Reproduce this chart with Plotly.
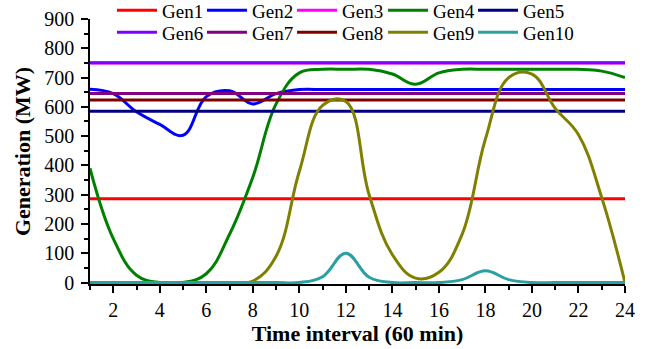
import plotly.graph_objects as go

hours = list(range(1, 25))

gen1 = [286] * 24
gen2 = [660, 645, 583, 540, 503, 635, 655, 610, 645, 659, 659, 659,
        659, 659, 659, 659, 659, 659, 659, 659, 659, 659, 659, 659]
gen3 = [750] * 24
gen4 = [390, 150, 25, 0, 0, 30, 165, 360, 610, 716, 728, 728,
        728, 712, 677, 716, 728, 728, 728, 728, 728, 728, 722, 700]
gen5 = [585] * 24
gen6 = [751] * 24
gen7 = [646] * 24
gen8 = [623] * 24
gen9 = [0, 0, 0, 0, 0, 0, 0, 5, 90, 380, 605, 618,
        300, 95, 15, 35, 165, 490, 700, 712, 595, 505, 290, 0]
gen10 = [0, 0, 0, 0, 0, 0, 0, 0, 0, 0, 20, 100,
         18, 0, 0, 0, 10, 40, 10, 0, 0, 0, 0, 0]

names = ["Gen1", "Gen2", "Gen3", "Gen4", "Gen5",
         "Gen6", "Gen7", "Gen8", "Gen9", "Gen10"]
series = [gen1, gen2, gen3, gen4, gen5, gen6, gen7, gen8, gen9, gen10]
colors = ["#FF0000", "#0000FF", "#FF00FF", "#008000", "#000080",
          "#8000FF", "#800080", "#800000", "#808000", "#2BA0A0"]

font_family = "Liberation Serif, Times New Roman, serif"

# legend grid placement (paper coords): 5 columns x 2 rows
col_x = [0.0411, 0.2093, 0.3776, 0.5477, 0.7159]
row_y = [1.104, 1.021]

fig = go.Figure()
legends = {}
for i, (name, vals, col) in enumerate(zip(names, series, colors)):
    key = "legend" if i == 0 else f"legend{i + 1}"
    fig.add_trace(go.Scatter(
        x=hours, y=vals, name=name, mode="lines",
        line=dict(color=col, width=3, shape="spline", smoothing=1.15),
        legend=key,
    ))
    legends[key] = dict(
        x=col_x[i % 5], y=row_y[i // 5], xanchor="left", yanchor="top",
        orientation="h", itemwidth=40,
        font=dict(family=font_family, size=19, color="black"),
        bgcolor="rgba(0,0,0,0)",
    )

fig.update_layout(
    width=651, height=349,
    margin=dict(l=90, r=26, t=18.7, b=64.8, autoexpand=False),
    paper_bgcolor="white", plot_bgcolor="white",
    font=dict(family=font_family, size=20, color="black"),
    showlegend=True,
    **legends,
    xaxis=dict(
        range=[1, 24], tickmode="array", tickvals=list(range(2, 25, 2)),
        ticks="outside", ticklen=7, tickwidth=1.5, tickcolor="black",
        showline=True, linecolor="black", linewidth=1.5, showgrid=False,
        zeroline=False, layer="below traces", automargin=False,
        minor=dict(dtick=1, tick0=1, ticks="outside", ticklen=4,
                   tickwidth=1.5, tickcolor="black", showgrid=False),
        title=dict(text="<b>Time interval (60 min)</b>",
                   font=dict(family=font_family, size=22), standoff=4),
        tickfont=dict(family=font_family, size=20),
    ),
    yaxis=dict(
        range=[-5, 900], tickmode="array", tickvals=list(range(0, 901, 100)),
        ticks="outside", ticklen=7, tickwidth=1.5, tickcolor="black",
        showline=True, linecolor="black", linewidth=1.5, showgrid=False,
        zeroline=False, layer="below traces", automargin=False,
        ticklabelstandoff=3,
        minor=dict(tickvals=list(range(50, 900, 100)), ticks="outside",
                   ticklen=4, tickwidth=1.5, tickcolor="black",
                   showgrid=False),
        title=dict(text="<b>Generation (MW)</b>",
                   font=dict(family=font_family, size=22), standoff=8),
        tickfont=dict(family=font_family, size=20),
    ),
)

fig.write_html("out.html",
               config={"displayModeBar": False},
               post_script="document.body.style.margin='0';")
